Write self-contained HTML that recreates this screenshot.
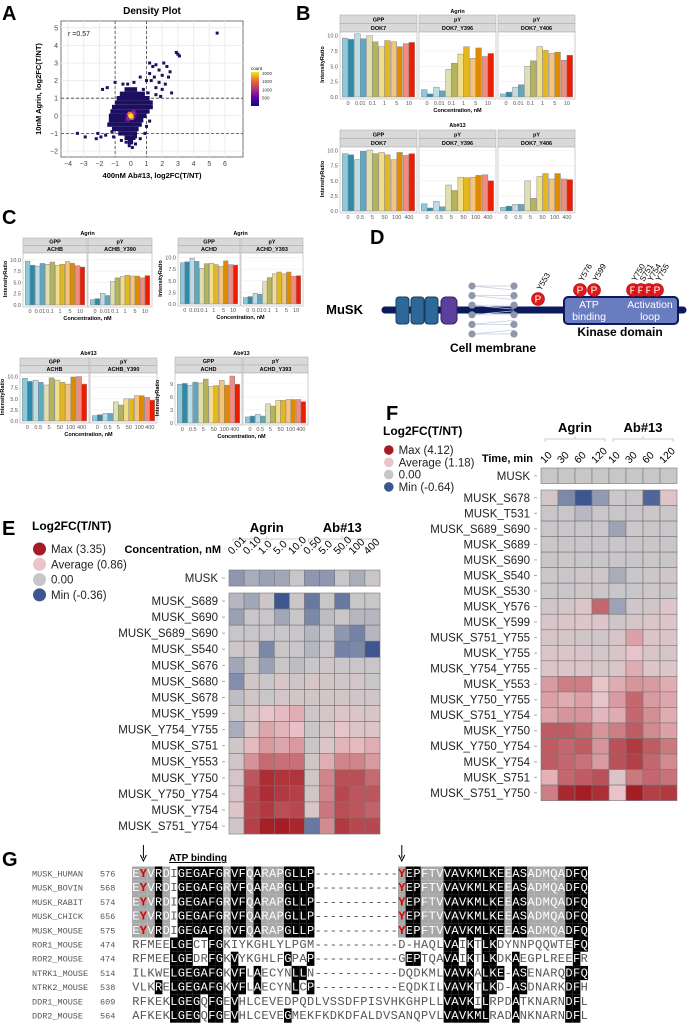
<!DOCTYPE html>
<html><head><meta charset="utf-8"><style>
body{margin:0;background:#fff}
svg{display:block;font-family:"Liberation Sans",Arial,sans-serif}
</style></head><body>
<svg id="fig" width="690" height="1026" viewBox="0 0 690 1026" xmlns="http://www.w3.org/2000/svg">
<g font-weight="bold" font-size="20">
<text x="2" y="20">A</text><text x="296" y="20">B</text><text x="2" y="224">C</text>
<text x="370" y="244">D</text><text x="2" y="535">E</text><text x="386" y="420">F</text><text x="2" y="866">G</text>
</g>
<g id="pA"></g>
<g id="pB"></g>
<g id="pC"></g>
<g id="pD">
<line x1="385" y1="310" x2="683" y2="310" stroke="#0b1a5c" stroke-width="7" stroke-linecap="round"/>
<text x="363" y="314" font-size="13" font-weight="bold" text-anchor="end">MuSK</text>
<rect x="396" y="297" width="13" height="27" rx="3" fill="#2e6898" stroke="#163b5e"/>
<rect x="411" y="297" width="13" height="27" rx="3" fill="#2e6898" stroke="#163b5e"/>
<rect x="425" y="297" width="13" height="27" rx="3" fill="#2e6898" stroke="#163b5e"/>
<rect x="441" y="297" width="16" height="27" rx="5" fill="#5b3f9c" stroke="#34225e"/>
<g id="membrane"></g>
<text x="493" y="352" font-size="12" font-weight="bold" text-anchor="middle">Cell membrane</text>
<rect x="564" y="297" width="114" height="27" rx="4" fill="#6a7cc0" stroke="#0b1a5c" stroke-width="2"/>
<text x="589" y="308" font-size="10.5" fill="#fff" text-anchor="middle">ATP</text>
<text x="589" y="320" font-size="10.5" fill="#fff" text-anchor="middle">binding</text>
<text x="650" y="308" font-size="10.5" fill="#fff" text-anchor="middle">Activation</text>
<text x="650" y="320" font-size="10.5" fill="#fff" text-anchor="middle">loop</text>
<text x="620" y="336" font-size="12" font-weight="bold" text-anchor="middle">Kinase domain</text>
<g id="psites"></g>
</g>
<g id="pE"></g>
<g id="pF"></g>
<g id="pG"></g>
</svg>
<script>
const NS="http://www.w3.org/2000/svg";
function el(p,t,a,txt){const e=document.createElementNS(NS,t);for(const k in a)e.setAttribute(k,a[k]);if(txt!==undefined)e.textContent=txt;p.appendChild(e);return e;}

/* ---------- Panel A data ---------- */
const aXTicks=[-4,-3,-2,-1,0,1,2,3,4,5,6];
const aYTicks=[-2,-1,0,1,2,3,4,5];
const aDensityRows=[[1.5,-0.4,0.4],[1.25,-0.7,0.9],[1.0,-0.9,1.2],[0.75,-1.0,1.4],[0.5,-1.2,1.4],[0.25,-1.3,1.2],[0,-1.4,1.0],[-0.25,-1.4,0.8],[-0.5,-1.5,0.7],[-0.75,-1.2,0.5],[-1.0,-0.8,0.4],[-1.25,-0.4,0.3],[-1.5,-0.2,0.15]];
const aOutliers=[[-3.4,-1],[-2.9,-1.2],[-2.2,-1.3],[-2.1,-1.0],[-1.9,-1.2],[-1.6,-1.1],[-1.2,-0.9],[-1.1,-1.2],[-1.8,1.5],[-1.5,1.6],[-1.0,1.9],[-0.5,1.8],[-0.2,1.8],[0.2,1.9],[0.6,2.2],[1.0,2.0],[1.2,2.4],[1.2,3.0],[1.4,2.8],[1.6,2.9],[1.8,2.6],[2.1,3.0],[2.3,2.8],[2.4,2.2],[1.8,1.9],[1.6,1.6],[2.0,1.5],[2.2,1.8],[2.5,2.5],[2.9,3.6],[3.0,3.5],[3.1,3.4],[2.6,1.3],[1.6,1.2],[1.9,1.1],[1.3,0.5],[1.2,-0.3],[1.0,-0.6],[0.9,-1.0],[0.6,-1.3],[0.3,-1.6],[0.1,-1.8],[-0.1,-1.7],[0.3,-1.2],[-0.6,-1.4],[-0.3,-1.5],[1.5,2.2],[0.8,1.5],[1.1,1.3],[5.5,4.7],[1.3,2.0],[2.0,2.3]];
const aCore=[[0,0,2000],[-0.07,0.1,1500],[0.07,-0.1,1400],[0.12,0.12,900],[-0.12,-0.12,900],[0.2,0.22,600],[-0.2,-0.22,600],[0.22,0,500],[-0.22,0,500]];
const aCbTicks=[500,1000,1500,2000];

/* ---------- Panel B/C data ---------- */
const cAgrin=["0","0.01","0.1","1","5","10"];
const cAb=["0","0.5","5","50","100","400"];
const t10=[0,2.5,5,7.5,10], t10l=["0.0","2.5","5.0","7.5","10.0"];
const t12=[0,3,6,9], t12l=["0","3","6","9"];
const bAgGpp=[9.6,9.4,10.3,9.5,10.0,9.0,8.2,9.2,9.0,8.2,8.7,8.9];
const bAgY396=[1.2,0.5,1.6,1.0,4.5,5.5,7.0,8.2,6.3,8.0,6.6,7.1];
const bAgY406=[0.5,0.8,1.6,2.0,5.0,5.9,8.2,7.6,7.1,7.3,6.0,6.8];
const bAbGpp=[9.5,9.3,8.5,9.9,10.1,9.5,9.7,9.3,8.5,9.7,9.2,9.5];
const bAbY396=[1.2,0.5,1.6,0.7,4.3,3.4,5.6,5.5,5.6,5.9,6.0,5.0];
const bAbY406=[0.6,0.8,1.1,1.1,5.0,2.1,5.7,6.2,5.3,6.2,5.3,5.2];
const c1Gpp=[9.7,8.8,8.6,9.2,9.0,9.5,8.8,9.0,9.6,9.2,8.7,8.4];
const c1pY=[1.2,1.4,2.6,2.1,5.2,6.0,6.3,6.6,6.4,6.4,6.0,6.5];
const c2Gpp=[8.9,9.1,9.9,9.2,7.7,8.7,8.8,8.5,8.1,9.3,8.5,8.4];
const c2pY=[1.4,1.6,2.3,2.1,4.8,5.7,6.5,6.9,6.5,6.9,6.0,6.1];
const c3Gpp=[9.6,8.9,9.2,8.7,8.1,9.7,9.2,8.7,8.3,9.9,10.0,8.3];
const c3pY=[1.2,1.4,1.7,1.7,4.3,3.6,5.0,5.0,5.7,5.7,5.3,4.7];
const c4Gpp=[8.9,9.1,8.7,9.4,9.2,10.1,8.4,8.6,9.8,8.7,10.8,8.9];
const c4pY=[1.4,1.6,2.0,1.6,4.4,3.9,5.2,5.2,5.4,5.4,5.4,4.9];
const barColors=["#8ccadb","#2f8aa9","#bcdde6","#5ea8c0","#dfdfb0","#b4b45c","#f2dd88","#e3b71e","#f3c47e","#df8a00","#f28a80","#ee1c00"];

/* ---------- Heatmap data ---------- */
const eCols=["0.01","0.10","1.0","5.0","10.0","0.50","5.0","50.0","100","400"];
const eMusk=[-0.15,-0.08,-0.12,-0.1,0,-0.15,-0.15,0,-0.08,0.05];
const eRows=["MUSK_S689","MUSK_S690","MUSK_S689_S690","MUSK_S540","MUSK_S676","MUSK_S680","MUSK_S678","MUSK_Y599","MUSK_Y754_Y755","MUSK_S751","MUSK_Y553","MUSK_Y750","MUSK_Y750_Y754","MUSK_Y754","MUSK_S751_Y754"];
const eVals=[
[-0.05,-0.1,0.1,-0.36,0.05,-0.25,0,-0.25,0,0],
[-0.12,0,0,-0.1,0,-0.2,-0.03,0.05,-0.05,-0.05],
[0,0,0,0,0,-0.05,0,-0.15,-0.22,-0.05],
[0.15,0.15,-0.2,0.05,0,-0.05,0,-0.22,-0.2,-0.36],
[-0.1,0,-0.12,0,-0.03,0,0.2,0,0,0],
[-0.18,0.2,0,0.4,0.1,0.4,0.2,0.15,0.3,0],
[-0.03,0.2,0,0.3,0.2,0.25,0.2,0.25,0.2,0.2],
[0.05,0.5,0.8,1.0,1.2,0.1,0.3,0.5,0.5,0.4],
[-0.08,0.5,1.3,1.1,0.9,0,0.3,0.8,0.5,0.5],
[0.2,1.0,1.5,1.3,1.5,0.05,0.5,1.1,1.0,1.2],
[0.2,1.6,2.2,2.1,2.1,0.2,1.2,1.8,1.8,1.5],
[0.35,2.5,3.1,3.0,3.0,0.2,1.8,2.6,2.6,2.2],
[0.35,2.7,3.1,2.9,2.8,0.2,1.8,2.7,2.5,2.5],
[0.6,2.7,2.9,2.6,2.7,0.4,2.0,2.6,2.5,2.3],
[0.2,2.8,3.3,3.35,3.2,-0.25,1.7,2.9,2.7,2.7]];
const fCols=["10","30","60","120","10","30","60","120"];
const fMusk=[0.02,0.02,0.02,0.02,0.02,0.02,0.02,0.02];
const fRows=["MUSK_S678","MUSK_T531","MUSK_S689_S690","MUSK_S689","MUSK_S690","MUSK_S540","MUSK_S530","MUSK_Y576","MUSK_Y599","MUSK_S751_Y755","MUSK_Y755","MUSK_Y754_Y755","MUSK_Y553","MUSK_Y750_Y755","MUSK_S751_Y754","MUSK_Y750","MUSK_Y750_Y754","MUSK_Y754","MUSK_S751","MUSK_S751_Y750"];
const fVals=[
[0.5,-0.35,-0.64,-0.25,0.1,0,-0.55,0.7],
[0,0,-0.08,0,0,0,0.1,0.1],
[0,0,0,0,-0.2,0.2,0,0],
[0.1,0,0,0,0,0,0,0],
[0,0.1,0,0,0,0,0.1,0],
[0.1,0,0.2,0.2,-0.15,0,0.1,0.2],
[0.1,0,0.2,0.1,0,0,0.2,0.1],
[0.2,0.4,0.7,2.8,-0.2,0.3,0.3,0.8],
[0.6,0.7,0.8,0.8,0.2,0.4,0.7,0.8],
[0.5,0.4,0.3,0.3,0.5,1.8,0.6,0.6],
[0.7,0.7,0.6,0.4,0.6,1.1,0.6,0.4],
[0.7,0.7,0.7,0.5,0.7,1.6,0.8,0.8],
[1.9,2.4,2.4,1.2,1.6,2.0,1.9,1.6],
[1.8,1.6,1.8,1.1,1.9,2.8,1.9,1.7],
[1.7,2.0,2.0,1.4,1.6,2.8,2.1,1.6],
[3.0,3.0,2.8,2.0,2.4,3.0,2.2,1.8],
[3.0,2.8,3.0,2.0,3.2,3.6,3.0,2.5],
[3.0,2.8,2.6,1.9,3.2,3.5,2.8,2.2],
[1.5,2.8,3.0,3.2,0.6,2.5,2.8,2.6],
[2.4,3.9,4.1,3.8,1.2,4.12,3.5,3.6]];

/* ---------- Alignment data ---------- */
const gNames=["MUSK_HUMAN","MUSK_BOVIN","MUSK_RABIT","MUSK_CHICK","MUSK_MOUSE","ROR1_MOUSE","ROR2_MOUSE","NTRK1_MOUSE","NTRK2_MOUSE","DDR1_MOUSE","DDR2_MOUSE"];
const gStarts=["576","568","574","656","575","474","474","514","538","609","564"];
const gSeqs=["EYVRDIGEGAFGRVFQARAPGLLP-----------YEPFTVVAVKMLKEEASADMQADFQ","EYVRDIGEGAFGRVFQARAPGLLP-----------YEPFTVVAVKMLKEEASADMQADFQ","EYVRDIGEGAFGRVFQARAPGLLP-----------YEPFTVVAVKMLKEEASADMQADFQ","EYVRDIGEGAFGRVFQARAPGLLP-----------YEPFTVVAVKMLKEEASADMQADFQ","EYVRDIGEGAFGRVFQARAPGLLP-----------YEPFTVVAVKMLKEEASADMQADFQ","RFMEELGECTFGKIYKGHLYLPGM-----------D-HAQLVAIKTLKDYNNPQQWTEFQ","RFMEELGEDRFGKVYKGHLFGPAP-----------GEPTQAVAIKTLKDKAEGPLREEFR","ILKWELGEGAFGKVFLAECYNLLN-----------DQDKMLVAVKALKE-ASENARQDFQ","VLKRELGEGAFGKVFLAECYNLCP-----------EQDKILVAVKTLKD-ASDNARKDFH","RFKEKLGEGQFGEVHLCEVEDPQDLVSSDFPISVHKGHPLLVAVKILRPDATKNARNDFL","AFKEKLGEGQFGEVHLCEVEGMEKFKDKDFALDVSANQPVLVAVKMLRADANKNARNDFL"];

/* ---------- Panel A ---------- */
(function(){
const g=document.getElementById('pA');
const X0=61,X1=243,Y0=21,Y1=157;
const sx=v=>68+(v+4)*15.7, sy=v=>151-(v+2)*17.6;
el(g,'text',{x:152,y:14,'font-size':10,'font-weight':'bold','text-anchor':'middle'},'Density Plot');
el(g,'rect',{x:X0,y:Y0,width:X1-X0,height:Y1-Y0,fill:'#fff',stroke:'#777'});
aXTicks.forEach(t=>{el(g,'line',{x1:sx(t),x2:sx(t),y1:Y0,y2:Y1,stroke:'#ececec'});
 const l=el(g,'text',{x:sx(t),y:Y1+9,'font-size':7,fill:'#444','text-anchor':'middle'},String(t).replace('-','−'));
 });
aYTicks.forEach(t=>{el(g,'line',{x1:X0,x2:X1,y1:sy(t),y2:sy(t),stroke:'#ececec'});
 const l=el(g,'text',{x:X0-3,y:sy(t)+2.5,'font-size':7,fill:'#444','text-anchor':'end'},String(t).replace('-','−'));
 });
[-1,1].forEach(v=>{el(g,'line',{x1:sx(v),x2:sx(v),y1:Y0,y2:Y1,stroke:'#444','stroke-dasharray':'3,2','stroke-width':0.8});
 el(g,'line',{x1:X0,x2:X1,y1:sy(v),y2:sy(v),stroke:'#444','stroke-dasharray':'3,2','stroke-width':0.8});});
aDensityRows.forEach(r=>{const d=el(g,'rect',{x:sx(r[1]),y:sy(r[0]+0.125),width:sx(r[2])-sx(r[1]),height:sy(-0.25)-sy(0),fill:'#1d0f60'});
 });
aOutliers.forEach(p=>{const d=el(g,'rect',{x:sx(p[0])-1.5,y:sy(p[1])-1.5,width:3,height:3,fill:'#1d0f60'});
 });
const stops=[[0,[13,8,135]],[500,[90,2,160]],[1000,[180,50,120]],[1500,[230,110,60]],[2000,[245,230,35]]];
function cc(c){for(let i=1;i<stops.length;i++){if(c<=stops[i][0]){const f=(c-stops[i-1][0])/(stops[i][0]-stops[i-1][0]);
  return 'rgb('+stops[i-1][1].map((v,k)=>Math.round(v+(stops[i][1][k]-v)*f)).join(',')+')';}}return 'rgb(245,230,35)';}
aCore.slice().sort((a,b)=>a[2]-b[2]).forEach(p=>{const d=el(g,'circle',{cx:sx(p[0]),cy:sy(p[1]),r:2.6,fill:cc(p[2])});
 });
el(g,'text',{x:68,y:36,'font-size':7,fill:'#222'},'r =0.57');
const t1=el(g,'text',{x:152,y:178,'font-size':7.5,'font-weight':'bold','text-anchor':'middle'},'400nM Ab#13, log2FC(T/NT)');

const t2=el(g,'text',{x:0,y:0,'font-size':7.5,'font-weight':'bold','text-anchor':'middle',transform:'translate(41,89) rotate(-90)'},'10nM Agrin, log2FC(T/NT)');

const defs=el(g,'defs',{});const lg=el(defs,'linearGradient',{id:'cb',x1:0,y1:1,x2:0,y2:0});
[[0,'#0d0887'],[0.25,'#5c02a2'],[0.5,'#b4327a'],[0.75,'#e66e3c'],[1,'#f5e623']].forEach(s=>el(lg,'stop',{offset:s[0],'stop-color':s[1]}));
el(g,'text',{x:251,y:70,'font-size':4.5},'count');
el(g,'rect',{x:251,y:72,width:8,height:34,fill:'url(#cb)'});
aCbTicks.forEach(t=>{el(g,'text',{x:262,y:106-(t/2100)*34+1.5,'font-size':4.5,fill:'#333'},String(t));});
})();

/* ---------- bar chart helper ---------- */
function barChart(g,cfg){
 const sc=v=>cfg.base-(v/cfg.ymax)*(cfg.base-cfg.plotTop);
 el(g,'text',{x:(cfg.panels[0].x0+cfg.panels[cfg.panels.length-1].x1)/2,y:cfg.titleY,'font-size':5.5,'font-weight':'bold','text-anchor':'middle'},cfg.title);
 cfg.ticks.forEach((t,i)=>el(g,'text',{x:cfg.panels[0].x0-2,y:sc(t)+2,'font-size':5.5,fill:'#555','text-anchor':'end'},cfg.tickLabels[i]));
 el(g,'text',{x:0,y:0,'font-size':5.5,'font-weight':'bold','text-anchor':'middle',transform:`translate(${cfg.panels[0].x0-16},${(cfg.plotTop+cfg.base)/2}) rotate(-90)`},'IntensityRatio');
 cfg.panels.forEach(p=>{
  const sh=(cfg.plotTop-cfg.stripTop)/2;
  el(g,'rect',{x:p.x0,y:cfg.stripTop,width:p.x1-p.x0,height:sh,fill:'#d9d9d9',stroke:'#b0b0b0','stroke-width':0.6});
  el(g,'rect',{x:p.x0,y:cfg.stripTop+sh,width:p.x1-p.x0,height:sh,fill:'#d9d9d9',stroke:'#b0b0b0','stroke-width':0.6});
  el(g,'text',{x:(p.x0+p.x1)/2,y:cfg.stripTop+sh-1.8,'font-size':5.5,'font-weight':'bold','text-anchor':'middle'},p.s1);
  el(g,'text',{x:(p.x0+p.x1)/2,y:cfg.stripTop+2*sh-1.8,'font-size':5.5,'font-weight':'bold','text-anchor':'middle'},p.s2);
  const bot=cfg.base+2;
  el(g,'rect',{x:p.x0,y:cfg.plotTop,width:p.x1-p.x0,height:bot-cfg.plotTop,fill:'#fff',stroke:'#b0b0b0','stroke-width':0.6});
  cfg.ticks.forEach(t=>el(g,'line',{x1:p.x0,x2:p.x1,y1:sc(t),y2:sc(t),stroke:'#eee','stroke-width':0.6}));
  const gw=(p.x1-p.x0-4)/6, bw=gw*0.47;
  p.vals.forEach((v,i)=>{const gi=Math.floor(i/2);const x=p.x0+2+gi*gw+gw*0.03+(i%2)*bw;
   const b=el(g,'rect',{x:x,y:sc(v),width:bw,height:cfg.base-sc(v),fill:barColors[i],stroke:'#888','stroke-width':0.5});
   });
  cfg.xl.forEach((l,gi)=>el(g,'text',{x:p.x0+2+gi*gw+gw/2,y:cfg.base+8,'font-size':5.5,fill:'#555','text-anchor':'middle'},l));
 });
 if(cfg.xTitle)el(g,'text',{x:(cfg.panels[0].x0+cfg.panels[cfg.panels.length-1].x1)/2,y:cfg.base+15,'font-size':5.5,'font-weight':'bold','text-anchor':'middle'},'Concentration, nM');
}
const gB=document.getElementById('pB'), gC=document.getElementById('pC');
barChart(gB,{title:'Agrin',titleY:13,stripTop:15,plotTop:32,base:97,ymax:10.6,ticks:t10,tickLabels:t10l,xl:cAgrin,xTitle:true,
 panels:[{x0:340,x1:417,s1:'GPP',s2:'DOK7',vals:bAgGpp},{x0:419,x1:496,s1:'pY',s2:'DOK7_Y396',vals:bAgY396},{x0:498,x1:575,s1:'pY',s2:'DOK7_Y406',vals:bAgY406}]});
barChart(gB,{title:'Ab#13',titleY:127,stripTop:130,plotTop:147,base:211,ymax:10.6,ticks:t10,tickLabels:t10l,xl:cAb,xTitle:false,
 panels:[{x0:340,x1:417,s1:'GPP',s2:'DOK7',vals:bAbGpp},{x0:419,x1:496,s1:'pY',s2:'DOK7_Y396',vals:bAbY396},{x0:498,x1:575,s1:'pY',s2:'DOK7_Y406',vals:bAbY406}]});
barChart(gC,{title:'Agrin',titleY:235,stripTop:238,plotTop:253,base:305,ymax:11.5,ticks:t10,tickLabels:t10l,xl:cAgrin,xTitle:true,
 panels:[{x0:23,x1:87,s1:'GPP',s2:'ACHB',vals:c1Gpp},{x0:88,x1:152,s1:'pY',s2:'ACHB_Y390',vals:c1pY}]});
barChart(gC,{title:'Agrin',titleY:235,stripTop:238,plotTop:253,base:304,ymax:11,ticks:t10,tickLabels:t10l,xl:cAgrin,xTitle:true,
 panels:[{x0:178,x1:240,s1:'GPP',s2:'ACHD',vals:c2Gpp},{x0:241,x1:303,s1:'pY',s2:'ACHD_Y393',vals:c2pY}]});
barChart(gC,{title:'Ab#13',titleY:355,stripTop:358,plotTop:373,base:421,ymax:10.8,ticks:t10,tickLabels:t10l,xl:cAb,xTitle:true,
 panels:[{x0:20,x1:89,s1:'GPP',s2:'ACHB',vals:c3Gpp},{x0:90,x1:157,s1:'pY',s2:'ACHB_Y390',vals:c3pY}]});
barChart(gC,{title:'Ab#13',titleY:355,stripTop:357,plotTop:373,base:423,ymax:11.5,ticks:t12,tickLabels:t12l,xl:cAb,xTitle:true,
 panels:[{x0:175,x1:242,s1:'GPP',s2:'ACHD',vals:c4Gpp},{x0:243,x1:308,s1:'pY',s2:'ACHD_Y393',vals:c4pY}]});

/* ---------- Panel D extras ---------- */
(function(){
 const m=document.getElementById('membrane');
 for(let i=0;i<6;i++){const y=286+i*9.6;
  el(m,'line',{x1:472,y1:y,x2:514,y2:y+(i<3?4:-4),stroke:'#c8cde0','stroke-width':0.7});
  el(m,'line',{x1:472,y1:y,x2:514,y2:y,stroke:'#c8cde0','stroke-width':0.7});
  el(m,'circle',{cx:472,cy:y,r:3.6,fill:'#9097ab'});el(m,'circle',{cx:514,cy:y,r:3.6,fill:'#9097ab'});}
 const p=document.getElementById('psites');
 const sites=[[538,299,'Y553'],[580,290,'Y576'],[594,290,'Y599'],[633,290,'Y750'],[641,290,'S751'],[649,290,'Y754'],[657,290,'Y755']];
 sites.forEach(s=>{el(p,'circle',{cx:s[0],cy:s[1],r:6.5,fill:'#e0191b',stroke:'#a00','stroke-width':0.6});
  el(p,'text',{x:s[0],y:s[1]+3.5,'font-size':10,fill:'#fff','text-anchor':'middle'},'P');
  el(p,'text',{x:0,y:0,'font-size':8,transform:`translate(${s[0]+3},${s[1]-8}) rotate(-60)`},s[2]);});
})();

/* ---------- heatmap helper ---------- */
function mix(a,b,f){return 'rgb('+a.map((v,i)=>Math.round(v+(b[i]-v)*f)).join(',')+')';}
function hcol(v,mn,avg,mx){const gr=[200,198,200],bl=[62,86,143],pk=[233,196,201],rd=[165,28,36];
 if(v<0)return mix(gr,bl,Math.min(1,v/mn));if(v<=avg)return mix(gr,pk,v/avg);return mix(pk,rd,Math.min(1,(v-avg)/(mx-avg)));}
function heatmap(g,c){
 el(g,'text',{x:c.lx,y:c.ly,'font-size':12,'font-weight':'bold'},'Log2FC(T/NT)');
 const leg=[['Max ('+c.mx+')',c.mx],['Average ('+c.avg+')',c.avg],['0.00',0],['Min ('+c.mn+')',c.mn]];
 leg.forEach((L,i)=>{const y=c.ly+c.lg0+i*c.lgs;el(g,'circle',{cx:c.lx+c.lr+1,cy:y,r:c.lr,fill:hcol(L[1],c.mn,c.avg,c.mx)});
  el(g,'text',{x:c.lx+c.lr*2+6,y:y+4,'font-size':11.5,fill:'#222'},L[0]);});
 const n=c.cols.length;
 el(g,'text',{x:c.x0+c.cw*c.split/2,y:c.hy,'font-size':13,'font-weight':'bold','text-anchor':'middle'},'Agrin');
 el(g,'text',{x:c.x0+c.cw*(c.split+n)/2,y:c.hy,'font-size':13,'font-weight':'bold','text-anchor':'middle'},'Ab#13');
 [[0,c.split],[c.split,n]].forEach(r=>{const a=c.x0+r[0]*c.cw+4,b=c.x0+r[1]*c.cw-4,y=c.hy+7;
  el(g,'path',{d:`M${a},${y+3}V${y}H${b}V${y+3}M${(a+b)/2},${y}v-3`,fill:'none',stroke:'#ccc'});});
 el(g,'text',{x:c.x0-8,y:c.cy,'font-size':11,'font-weight':'bold','text-anchor':'end'},c.colTitle);
 c.cols.forEach((l,i)=>el(g,'text',{x:0,y:0,'font-size':10.5,transform:`translate(${c.x0+i*c.cw+c.cw*0.2},${c.cy+2}) rotate(-45)`},l));
 const drawRow=(vals,y,lab)=>{vals.forEach((v,i)=>{const r=el(g,'rect',{x:c.x0+i*c.cw,y:y,width:c.cw,height:c.ch,fill:hcol(v,c.mn,c.avg,c.mx),stroke:'#777','stroke-width':0.6});
   });
  el(g,'text',{x:c.x0-11,y:y+c.ch/2+4,'font-size':11.5,fill:'#222','text-anchor':'end'},lab);
  el(g,'line',{x1:c.x0-7,x2:c.x0-4,y1:y+c.ch/2,y2:y+c.ch/2,stroke:'#aaa'});};
 drawRow(c.musk,c.my,'MUSK');
 c.rows.forEach((lab,ri)=>drawRow(c.vals[ri],c.dy+ri*c.ch,lab));
}
heatmap(document.getElementById('pE'),{lx:32,ly:530,lg0:19,lgs:15.3,lr:6.5,mn:-0.36,avg:0.86,mx:3.35,cols:eCols,split:5,x0:229,cw:15.1,ch:16.07,hy:532,cy:553,colTitle:'Concentration, nM',musk:eMusk,my:570,rows:eRows,vals:eVals,dy:593});
heatmap(document.getElementById('pF'),{lx:383,ly:435,lg0:15,lgs:12.3,lr:4.8,mn:-0.64,avg:1.18,mx:4.12,cols:fCols,split:4,x0:541,cw:17,ch:15.53,hy:432,cy:462,colTitle:'Time, min',musk:fMusk,my:468,rows:fRows,vals:fVals,dy:490});

/* ---------- Panel G ---------- */
(function(){
 const g=document.getElementById('pG');const cw=7.6,x0=132,y0=873,rh=14.2,L=gSeqs[0].length;
 el(g,'text',{x:198,y:861,'font-size':10,'font-weight':'bold','text-anchor':'middle','text-decoration':'underline'},'ATP binding');
 [x0+cw*1.5,x0+cw*35.5].forEach(x=>{el(g,'line',{x1:x,x2:x,y1:845,y2:858,stroke:'#000'});el(g,'path',{d:`M${x-3},855L${x},861L${x+3},855`,fill:'none',stroke:'#000'});});
 const shade=[];
 for(let c=0;c<L;c++){const cnt={};gSeqs.forEach(s=>{if(s[c]!=='-')cnt[s[c]]=(cnt[s[c]]||0)+1;});
  let best='',bn=0;for(const k in cnt)if(cnt[k]>bn){bn=cnt[k];best=k;}shade.push([best,bn]);}
 gSeqs.forEach((s,ri)=>{const y=y0+ri*rh;
  el(g,'text',{x:32,y:y+3.5,'font-size':8.5,'font-family':'Liberation Mono,monospace',fill:'#555'},gNames[ri]);
  el(g,'text',{x:100,y:y+3.5,'font-size':8.5,'font-family':'Liberation Mono,monospace',fill:'#555'},gStarts[ri]);
  for(let c=0;c<L;c++){const ch=s[c];let bg=null,fg='#555';
   if(ch!=='-'&&ch===shade[c][0]){if(shade[c][1]>=6){bg='#000';fg='#fff';}else if(shade[c][1]>=4){bg='#a8a8a8';fg='#fff';}}
   if(bg)el(g,'rect',{x:x0+c*cw,y:y-6.5,width:cw,height:rh,fill:bg});
   const red=ri<5&&(c===1||c===35);
   el(g,'text',{x:x0+c*cw+cw/2,y:y+4,'font-size':12,'font-family':'Liberation Mono,monospace','text-anchor':'middle',fill:red?'#d00':fg,'font-weight':red?'bold':'normal'},ch);}
 });
})();
</script>
</body></html>
